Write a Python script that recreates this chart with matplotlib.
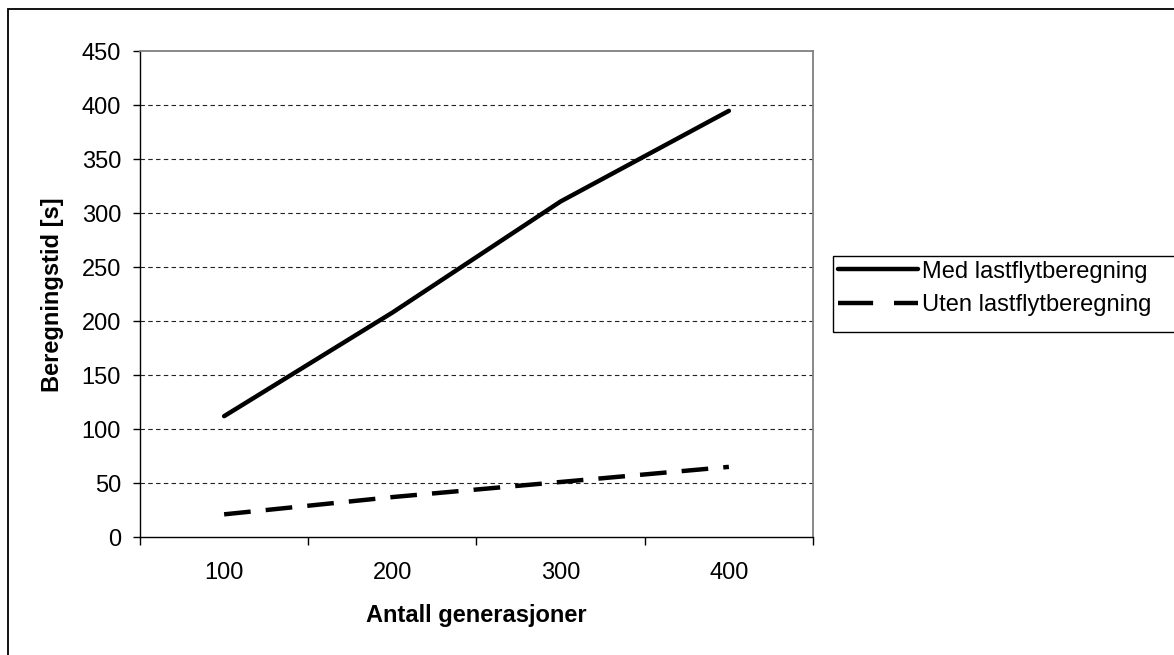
import matplotlib
matplotlib.use("Agg")
import matplotlib.pyplot as plt
from matplotlib.patches import Rectangle
from matplotlib.lines import Line2D

plt.rcParams['font.family'] = ['Liberation Sans', 'DejaVu Sans']

categories = ["100", "200", "300", "400"]
med = [112, 208, 311, 395]
uten = [21, 37, 51, 65]
series_names = ["Med lastflytberegning", "Uten lastflytberegning"]
yticks = [0, 50, 100, 150, 200, 250, 300, 350, 400, 450]

W, H = 1174, 655
FS = 17
fig = plt.figure(figsize=(W / 100, H / 100), dpi=100)

# outer chart border (left & top visible)
fig.patches.append(Rectangle((8 / W, -0.1), 1.2, 1 - 9 / H + 0.1, transform=fig.transFigure,
                             fill=False, edgecolor='black', linewidth=1.3))

ax = fig.add_axes([140 / W, 1 - 537 / H, (813 - 140) / W, (537 - 51.5) / H])
x = [i + 0.5 for i in range(len(categories))]
ax.plot(x, med, color='black', linewidth=3.2, solid_capstyle='round', label=series_names[0], zorder=3)
ax.plot(x, uten, color='black', linewidth=3.2, dashes=(6, 3.4), label=series_names[1], zorder=3)

ax.set_xlim(0, len(categories))
ax.set_ylim(0, 450)
ax.set_yticks(yticks)
ax.set_yticklabels([str(v) for v in yticks], fontsize=FS)
ax.set_xticks([i for i in range(len(categories) + 1)])
ax.set_xticklabels([])
ax.set_xticks(x, minor=True)
ax.set_xticklabels(categories, minor=True, fontsize=FS)
ax.tick_params(axis='x', which='minor', length=0, pad=18)
ax.tick_params(axis='x', which='major', length=5.5, width=1, direction='out')
ax.tick_params(axis='y', length=5, width=1, direction='out', pad=8.6)

for v in yticks[1:-1]:
    ax.axhline(v, color='#222222', linewidth=0.8, linestyle=(0, (4, 3)), zorder=1)

for s in ['left', 'bottom']:
    ax.spines[s].set_color('black')
    ax.spines[s].set_linewidth(1)
for s in ['top', 'right']:
    ax.spines[s].set_color('#808080')
    ax.spines[s].set_linewidth(1.3)

ax.set_xlabel("Antall generasjoner", fontsize=FS, fontweight='bold')
ax.xaxis.set_label_coords(0.5, (537 - 604) / (537 - 51.5))
ax.set_ylabel("Beregningstid [s]", fontsize=FS, fontweight='bold')
ax.yaxis.set_label_coords((64 - 140) / (813 - 140), 0.5)

handles = [Line2D([], [], color='black', linewidth=3.2, solid_capstyle='round'),
           Line2D([], [], color='black', linewidth=3.2, dashes=(7.9, 4.7))]
leg = fig.legend(handles, series_names, loc='upper left',
                 bbox_to_anchor=(833 / W, 1 - 255.5 / H), fontsize=FS,
                 frameon=False, handlelength=3.4,
                 handletextpad=0.15, borderpad=0.22, labelspacing=0.49, borderaxespad=0)
fig.patches.append(Rectangle((833 / W, 1 - 331.5 / H), 0.5, (331.5 - 255.5) / H, transform=fig.transFigure,
                             fill=False, edgecolor='black', linewidth=1))

fig.savefig("out.png", dpi=100)
